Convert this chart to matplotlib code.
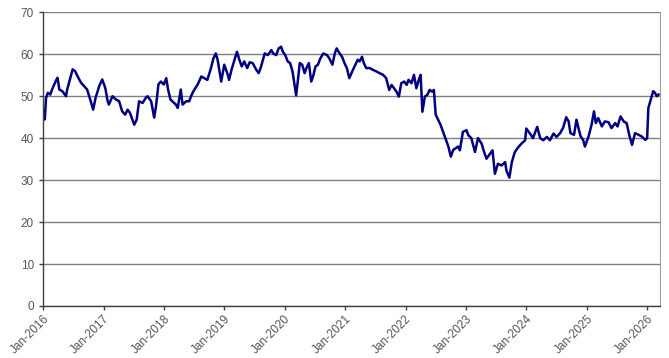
import numpy as np
import pandas as pd
import matplotlib
matplotlib.use("Agg")
import matplotlib.pyplot as plt
import matplotlib.dates as mdates

plt.rcParams["font.family"] = ["Liberation Sans", "DejaVu Sans"]

# Values (decimal year, level)
years = [
    2016.00, 2016.02, 2016.03, 2016.05, 2016.08, 2016.12, 2016.15, 2016.21, 2016.24, 2016.27,
    2016.32, 2016.35, 2016.38, 2016.40, 2016.46, 2016.49, 2016.53, 2016.57, 2016.63, 2016.68,
    2016.73, 2016.79, 2016.83, 2016.87, 2016.93, 2016.98, 2017.03, 2017.07, 2017.09, 2017.15,
    2017.21, 2017.26, 2017.31, 2017.36, 2017.40, 2017.44, 2017.51, 2017.55, 2017.59, 2017.65,
    2017.70, 2017.73, 2017.79, 2017.84, 2017.87, 2017.91, 2017.95, 2018.00, 2018.04, 2018.07,
    2018.11, 2018.14, 2018.20, 2018.23, 2018.28, 2018.31, 2018.37, 2018.42, 2018.45, 2018.49,
    2018.56, 2018.62, 2018.67, 2018.72, 2018.78, 2018.82, 2018.86, 2018.89, 2018.95, 2019.00,
    2019.05, 2019.08, 2019.12, 2019.17, 2019.21, 2019.25, 2019.29, 2019.33, 2019.38, 2019.42,
    2019.47, 2019.53, 2019.57, 2019.61, 2019.67, 2019.72, 2019.78, 2019.81, 2019.86, 2019.90,
    2019.94, 2019.97, 2020.01, 2020.05, 2020.09, 2020.13, 2020.17, 2020.19, 2020.22, 2020.25,
    2020.29, 2020.33, 2020.36, 2020.40, 2020.44, 2020.47, 2020.51, 2020.55, 2020.59, 2020.64,
    2020.70, 2020.74, 2020.79, 2020.83, 2020.86, 2020.91, 2020.95, 2020.99, 2021.03, 2021.07,
    2021.13, 2021.17, 2021.21, 2021.24, 2021.28, 2021.31, 2021.35, 2021.41, 2021.46, 2021.52,
    2021.57, 2021.63, 2021.68, 2021.73, 2021.77, 2021.81, 2021.85, 2021.89, 2021.93, 2021.98,
    2022.02, 2022.05, 2022.10, 2022.14, 2022.18, 2022.22, 2022.25, 2022.28, 2022.32, 2022.36,
    2022.40, 2022.44, 2022.47, 2022.50, 2022.54, 2022.58, 2022.62, 2022.66, 2022.71, 2022.75,
    2022.79, 2022.83, 2022.87, 2022.90, 2022.95, 2023.01, 2023.04, 2023.09, 2023.15, 2023.20,
    2023.26, 2023.29, 2023.34, 2023.40, 2023.44, 2023.48, 2023.53, 2023.59, 2023.65, 2023.67,
    2023.72, 2023.76, 2023.81, 2023.87, 2023.92, 2023.98, 2024.00, 2024.06, 2024.11, 2024.18,
    2024.23, 2024.28, 2024.34, 2024.39, 2024.45, 2024.50, 2024.56, 2024.61, 2024.66, 2024.70,
    2024.73, 2024.79, 2024.83, 2024.87, 2024.90, 2024.94, 2024.97, 2025.03, 2025.08, 2025.12,
    2025.15, 2025.19, 2025.25, 2025.30, 2025.36, 2025.41, 2025.47, 2025.51, 2025.56, 2025.61,
    2025.66, 2025.71, 2025.75, 2025.80, 2025.86, 2025.91, 2025.97, 2026.00, 2026.02, 2026.06,
    2026.10, 2026.13, 2026.16, 2026.19,
]
values = [
    46.5, 44.4, 44.6, 49.6, 50.8, 50.4, 51.6, 53.6, 54.4, 51.6,
    51.2, 50.6, 50.0, 51.6, 54.8, 56.4, 56.0, 54.8, 53.2, 52.4,
    51.6, 48.8, 46.8, 49.6, 52.4, 54.0, 52.0, 48.8, 48.0, 50.0,
    49.2, 48.8, 46.4, 45.6, 46.8, 46.0, 43.2, 44.4, 48.8, 48.4,
    49.6, 50.0, 48.8, 44.9, 47.6, 52.8, 53.5, 52.8, 54.3, 51.6,
    49.2, 48.8, 48.0, 47.2, 51.6, 48.0, 48.8, 48.8, 50.0, 51.2,
    52.8, 54.7, 54.3, 53.9, 56.7, 59.0, 60.2, 58.7, 53.5, 57.5,
    55.5, 53.9, 56.3, 58.7, 60.6, 58.7, 57.1, 58.3, 56.7, 58.1,
    57.9, 56.3, 55.5, 57.1, 60.2, 59.8, 61.0, 60.2, 59.8, 61.4,
    61.8, 60.6, 59.8, 58.3, 57.9, 55.9, 52.0, 50.2, 53.9, 57.9,
    57.5, 55.5, 56.7, 57.9, 53.5, 54.7, 57.1, 57.5, 59.0, 60.2,
    59.8, 59.0, 57.5, 60.2, 61.4, 60.2, 59.4, 57.9, 56.7, 54.3,
    56.3, 57.5, 58.7, 58.3, 59.4, 57.9, 56.7, 56.7, 56.3, 55.9,
    55.5, 55.1, 54.3, 51.5, 52.7, 51.9, 51.1, 49.9, 53.1, 53.5,
    52.7, 53.9, 53.1, 55.1, 51.9, 53.9, 55.1, 46.3, 49.9, 50.3,
    51.5, 51.1, 51.5, 45.6, 44.4, 43.2, 41.6, 40.0, 38.0, 35.6,
    37.2, 37.6, 38.0, 37.1, 41.5, 41.9, 40.7, 40.0, 36.7, 40.0,
    38.7, 37.2, 35.1, 36.3, 37.1, 31.5, 33.9, 33.5, 34.3, 32.3,
    30.6, 34.3, 36.7, 37.9, 38.7, 39.5, 42.3, 41.1, 40.0, 42.7,
    40.0, 39.5, 40.3, 39.5, 41.1, 40.3, 41.2, 42.5, 45.0, 44.0,
    41.2, 40.8, 44.4, 42.0, 40.4, 39.6, 38.0, 40.4, 43.2, 46.4,
    43.6, 44.8, 42.8, 44.0, 43.8, 42.4, 43.6, 42.8, 45.2, 44.0,
    43.6, 40.4, 38.4, 41.2, 40.8, 40.4, 39.6, 40.0, 47.2, 49.2,
    51.2, 50.8, 50.0, 50.4,
]

start = pd.Timestamp("2016-01-01")
dates = start + pd.to_timedelta((np.array(years) - 2016) * 365.25, unit="D")

fig = plt.figure(figsize=(6.69, 3.58), dpi=100)
ax = fig.add_axes([0.0643, 0.1453, 0.9217, 0.8203])

ax.plot(dates, values, color="#000080", linewidth=1.8)

ax.set_ylim(0, 70)
ax.set_yticks(range(0, 71, 10))
ax.set_xlim(start, pd.Timestamp("2026-03-17"))
ax.xaxis.set_major_locator(mdates.YearLocator())
ax.xaxis.set_major_formatter(mdates.DateFormatter("%b-%Y"))

ax.grid(axis="y", color="#808080", linewidth=1.0)
ax.set_axisbelow(True)

for side in ["left", "bottom"]:
    ax.spines[side].set_color("#404040")
    ax.spines[side].set_linewidth(1.0)
ax.spines["right"].set_color("#a0a0a0")
ax.spines["top"].set_visible(False)

ax.tick_params(axis="both", colors="#404040", labelcolor="#555555", labelsize=8.5, length=3, width=1.0)
ax.tick_params(axis="x", pad=2)
plt.setp(ax.get_xticklabels(), rotation=45, ha="right", rotation_mode="anchor")

fig.savefig("out.png", dpi=100)
